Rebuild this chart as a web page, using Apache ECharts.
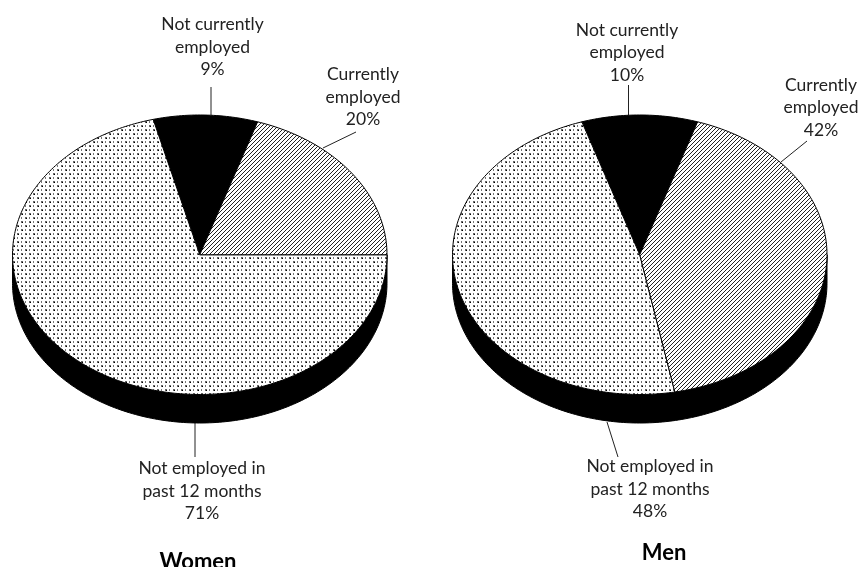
<!DOCTYPE html>
<html><head><meta charset="utf-8">
<style>html,body{margin:0;padding:0;background:#fff;overflow:hidden}#c{width:859px;height:567px}</style>
<script src="https://cdn.jsdelivr.net/npm/echarts@6/dist/echarts.min.js"></script>
</head><body><div id="c"></div>
<script>
const categories = ['Not currently employed', 'Not employed in past 12 months', 'Currently employed'];
const womenValues = [9, 71, 20];
const menValues = [10, 48, 42];
const panelTitles = ['Women', 'Men'];

const START_DEG = 72;
const DEPTH = 0.204;
const FONT = 'Lato, "Open Sans", sans-serif';

function tile(w, h, draw) {
  const c = document.createElement('canvas');
  c.width = w; c.height = h;
  draw(c.getContext('2d'));
  return { image: c, repeat: 'repeat' };
}
const hatch = tile(4, 4, g => {
  g.fillStyle = '#fff'; g.fillRect(0, 0, 4, 4);
  g.strokeStyle = '#222'; g.lineWidth = 1;
  [[-1, 5, 5, -1], [-5, 5, 1, -1], [3, 5, 9, -1]].forEach(l => {
    g.beginPath(); g.moveTo(l[0], l[1]); g.lineTo(l[2], l[3]); g.stroke();
  });
});
const dots = tile(8, 8, g => {
  g.fillStyle = '#fff'; g.fillRect(0, 0, 8, 8);
  g.fillStyle = '#666';
  [[1, 1], [5, 5]].forEach(p => g.fillRect(p[0], p[1], 2, 2));
  g.fillStyle = '#000';
  [[2, 2], [6, 6]].forEach(p => g.fillRect(p[0], p[1], 1, 1));
  g.fillStyle = '#777';
  [[5, 1], [1, 5]].forEach(p => g.fillRect(p[0], p[1], 1, 2));
});
const fills = ['#000', dots, hatch];

function arc(api, a0, a1, dy) {
  const pts = [];
  const n = Math.max(2, Math.ceil(Math.abs(a1 - a0)));
  for (let i = 0; i <= n; i++) {
    const a = (a0 + (a1 - a0) * i / n) * Math.PI / 180;
    pts.push(api.coord([Math.cos(a), Math.sin(a) - dy]));
  }
  return pts;
}
function renderSlice(params, api) {
  const share = api.value(0), before = api.value(1);
  const a0 = START_DEG + before * 3.6, a1 = a0 + share * 3.6;
  const pts = [api.coord([0, 0])].concat(arc(api, a0, a1, 0));
  return { type: 'polygon', shape: { points: pts },
    style: { fill: fills[params.dataIndex], stroke: '#000', lineWidth: 1 } };
}
function renderWall(params, api) {
  const lower = arc(api, 180, 360, 0);
  const base = arc(api, 360, 180, DEPTH);
  return { type: 'polygon', shape: { points: lower.concat(base) },
    style: { fill: '#000', stroke: '#000', lineWidth: 1 } };
}
function rows(values) {
  let sum = 0;
  return values.map((v, i) => { const r = { name: categories[i], value: [v, sum] }; sum += v; return r; });
}
function label(text, x, y) {
  return { type: 'text', x: x, y: y, silent: true, style: { text: text, fill: '#222',
    font: '400 17.5px ' + FONT, lineHeight: 22.5, align: 'center', verticalAlign: 'middle' } };
}
function leader(x1, y1, x2, y2) {
  return { type: 'line', silent: true, shape: { x1, y1, x2, y2 }, style: { stroke: '#222', lineWidth: 1 } };
}
function heading(text, x, y) {
  return { type: 'text', x: x, y: y, silent: true, style: { text: text, fill: '#000',
    font: '700 22px ' + FONT, align: 'center', verticalAlign: 'middle' } };
}
const hiddenAxis = i => ({ type: 'value', show: false, gridIndex: i, min: -1, max: 1 });
const hiddenY = i => ({ type: 'value', show: false, gridIndex: i, min: -1 - DEPTH, max: 1 });
const faces = [womenValues, menValues];

const option = {
  animation: false,
  backgroundColor: '#fff',
  grid: [
    { left: 12.5, top: 115, width: 374.5, height: 308 },
    { left: 452.5, top: 115, width: 374.5, height: 308 }
  ],
  xAxis: [hiddenAxis(0), hiddenAxis(1)],
  yAxis: [hiddenY(0), hiddenY(1)],
  series: [0, 1].flatMap(i => [
    { type: 'custom', name: panelTitles[i] + ' side', xAxisIndex: i, yAxisIndex: i, z: 1, silent: true,
      coordinateSystem: 'cartesian2d', renderItem: renderWall, data: [[0, 0]], clip: false },
    { type: 'custom', name: panelTitles[i], xAxisIndex: i, yAxisIndex: i, z: 2, silent: true,
      coordinateSystem: 'cartesian2d', renderItem: renderSlice, data: rows(faces[i]), clip: false }
  ]),
  graphic: { elements: [
    leader(211, 87, 211, 115), leader(323, 148, 356, 132), leader(195, 423, 195, 457),
    leader(628.5, 85, 628.5, 115), leader(781, 162, 807, 141), leader(607, 422, 618, 457),
    label('Not currently\nemployed\n' + womenValues[0] + '%', 212.5, 47),
    label('Currently\nemployed\n' + womenValues[2] + '%', 363, 97),
    label('Not employed in\npast 12 months\n' + womenValues[1] + '%', 202, 491),
    label('Not currently\nemployed\n' + menValues[0] + '%', 627, 52.5),
    label('Currently\nemployed\n' + menValues[2] + '%', 821, 107.5),
    label('Not employed in\npast 12 months\n' + menValues[1] + '%', 650, 489),
    heading(panelTitles[0], 198, 562),
    heading(panelTitles[1], 664, 553)
  ] }
};
echarts.init(document.getElementById('c'), null, { renderer: 'canvas' }).setOption(option);
</script></body></html>
